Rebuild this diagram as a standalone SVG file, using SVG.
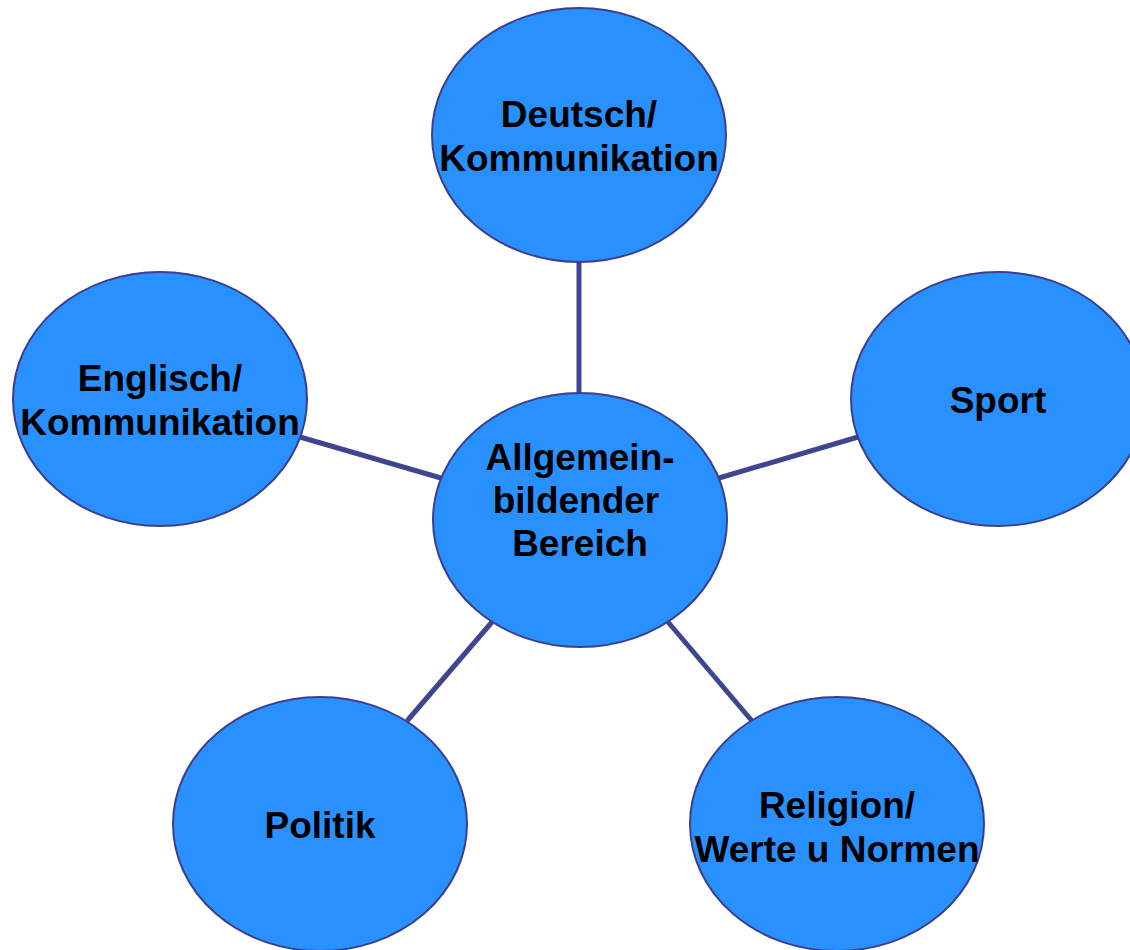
<svg xmlns="http://www.w3.org/2000/svg" width="1130" height="950" viewBox="0 0 1130 950">
  <style>
    .bubble { fill: #2990ff; stroke: #3c3f8c; stroke-width: 2; }
    .link { stroke: #3f4690; stroke-width: 5; fill: none; }
    .label { font-family: "Liberation Sans", Arial, sans-serif; font-weight: bold; font-size: 37px; fill: #000; text-anchor: middle; }
  </style>
  <rect width="1130" height="950" fill="#ffffff"/>

  <g id="connectors">
    <line class="link" x1="579" y1="262" x2="579" y2="393"/>
    <line class="link" x1="300" y1="437" x2="441" y2="478"/>
    <line class="link" x1="719" y1="478" x2="858" y2="437"/>
    <line class="link" x1="407" y1="721" x2="492" y2="622"/>
    <line class="link" x1="668" y1="622" x2="752" y2="721"/>
  </g>

  <g id="node-center">
    <ellipse class="bubble" cx="580" cy="520" rx="147" ry="127"/>
    <text class="label" x="580" y="470">Allgemein-</text>
    <text class="label" x="576" y="513">bildender</text>
    <text class="label" x="580" y="556">Bereich</text>
  </g>

  <g id="node-deutsch">
    <ellipse class="bubble" cx="579" cy="135" rx="147" ry="127"/>
    <text class="label" x="579" y="127">Deutsch/</text>
    <text class="label" x="579" y="171">Kommunikation</text>
  </g>

  <g id="node-englisch">
    <ellipse class="bubble" cx="160" cy="399" rx="147" ry="127"/>
    <text class="label" x="160" y="391">Englisch/</text>
    <text class="label" x="160" y="435">Kommunikation</text>
  </g>

  <g id="node-sport">
    <ellipse class="bubble" cx="998" cy="399" rx="147" ry="127"/>
    <text class="label" x="998" y="413">Sport</text>
  </g>

  <g id="node-politik">
    <ellipse class="bubble" cx="320" cy="824" rx="147" ry="127"/>
    <text class="label" x="320" y="838">Politik</text>
  </g>

  <g id="node-religion">
    <ellipse class="bubble" cx="837" cy="824" rx="147" ry="127"/>
    <text class="label" x="837" y="818">Religion/</text>
    <text class="label" x="837" y="862">Werte u Normen</text>
  </g>
</svg>
